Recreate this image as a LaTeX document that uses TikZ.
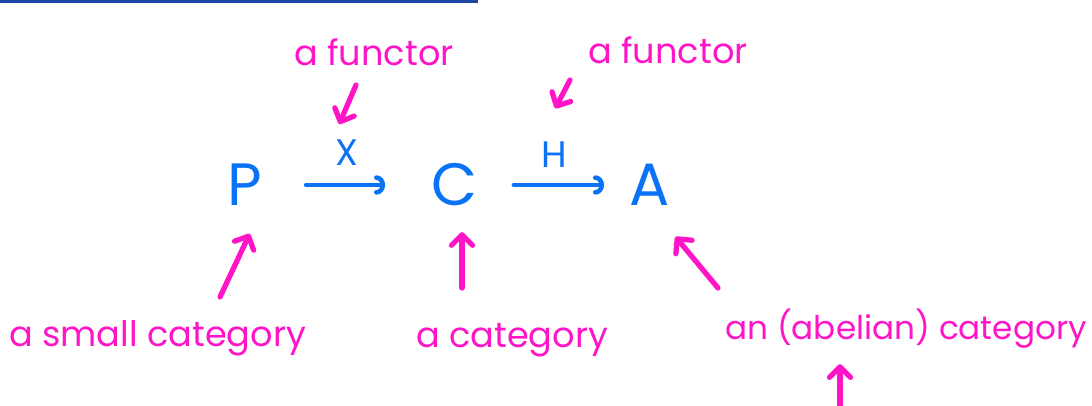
\documentclass[tikz,border=0pt]{standalone}
\usepackage{fontspec}
\setmainfont{Poppins}
\usepackage{tikz}
\usetikzlibrary{arrows.meta}
\definecolor{inkBlue} {HTML}{0A72F5}
\definecolor{inkPink} {HTML}{FF14C8}
\definecolor{ruleBlue}{HTML}{1C46A6}

\begin{document}
\begin{tikzpicture}[
      obj/.style={text=inkBlue, inner sep=0pt, font=\fontsize{34}{34}\selectfont},
      fname/.style={text=inkBlue, inner sep=0pt, font=\fontsize{21}{21}\selectfont},
      map/.style={draw=inkBlue, line width=2.6pt, line cap=round,
                  -{Arc Barb[length=5pt, width=11pt, line cap=round]}},
      note/.style={text=inkPink, inner sep=0pt, font=\fontsize{20}{20}\selectfont},
      pointer/.style={draw=inkPink, line width=3pt, line cap=round,
                  -{Straight Barb[length=6pt, width=12pt, line cap=round, line join=round]}}]
    \useasboundingbox (0,0) rectangle (21.84,8.12);
    \draw[ruleBlue, line width=1.7pt] (0,8.09) -- (9.56,8.09);

    % the diagram
    \node[obj] (P) at (4.9,4.42)  {P};
    \node[obj] (C) at (9.1,4.42)  {C};
    \node[obj] (A) at (13.0,4.42) {A};
    \draw[map, shorten <=0.87cm, shorten >=0.93cm] (P.east) --
      node[midway, yshift=0.64cm, fname] (xlab) {X} (C.west);
    \draw[map, shorten <=0.71cm, shorten >=0.51cm] (C.east) --
      node[midway, yshift=0.6cm, fname] (hlab) {H} (A.west);

    % notes
    \node[note] (fun1) at (7.48,7.08)  {a functor};
    \node[note] (fun2) at (13.36,7.12) {a functor};
    \node[note, anchor=base] (small) at (3.15,1.18)  {a small category};
    \node[note, anchor=base] (cat)   at (10.24,1.16) {a category};
    \node[note, anchor=base, font=\fontsize{18.6}{18.6}\selectfont]
      (abel) at (18.12,1.32) {an (abelian) category};

    \coordinate (f1tail) at (7.12,6.42);
    \coordinate (f2tail) at (11.4,6.52);
    \coordinate (ptail)  at (4.4,2.18);
    \coordinate (ctail)  at (9.24,2.36);
    \coordinate (atail)  at (14.36,2.36);
    \coordinate (abtail) at (16.8,0);
    \draw[pointer, shorten >=0.3cm]  (f1tail) -- (xlab.north west);
    \draw[pointer, shorten >=0.71cm] (f2tail) -- (hlab.north west);
    \draw[pointer, shorten >=0.61cm] (ptail) -- (P.south east);
    \draw[pointer, shorten >=0.51cm] (ctail) -- (ctail |- C.south);
    \draw[pointer, shorten >=0.8cm]  (atail) -- (A.south);
    \draw[pointer, shorten >=0.3cm]  (abtail) -- (abtail |- abel.south);
  \end{tikzpicture}
\end{document}
